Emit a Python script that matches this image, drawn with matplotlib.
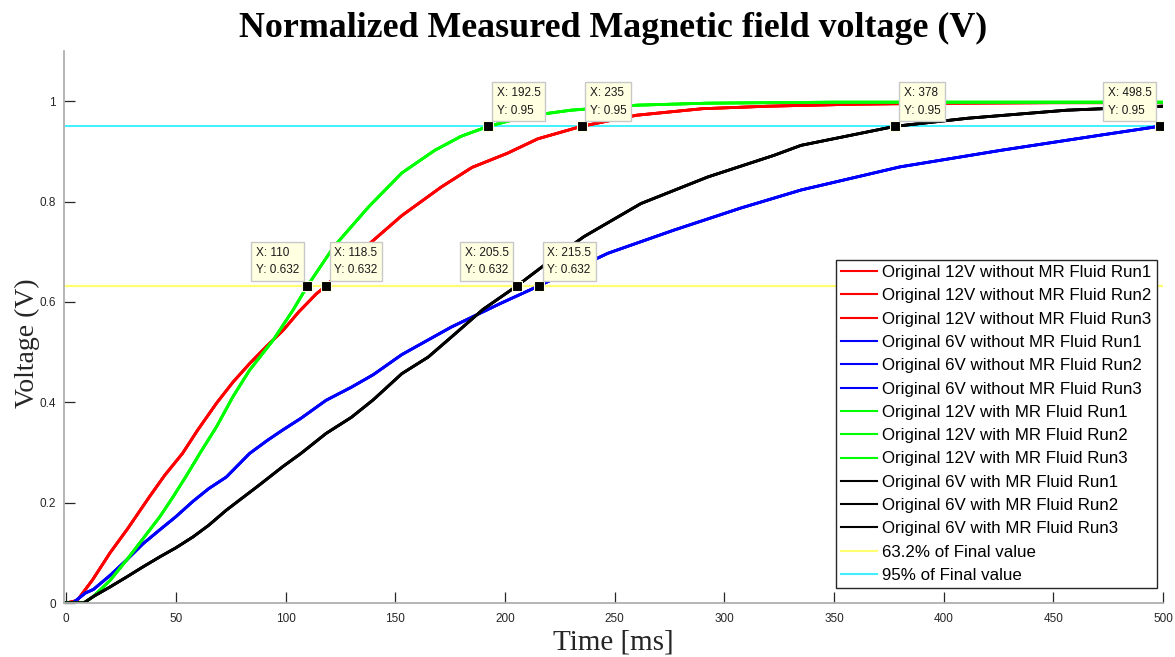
import matplotlib
matplotlib.use("Agg")
import matplotlib.pyplot as plt

# ---------------- data ----------------
t_red = [0, 5, 12, 20, 28, 38, 45, 53, 60, 68.5, 76, 83.6, 91, 98.8, 106, 114, 118.5,
         128, 138, 153, 171, 185, 201, 215, 235, 260, 290, 320, 360, 400, 450, 500]
v_red = [0, 0.005, 0.046, 0.10, 0.148, 0.212, 0.255, 0.298, 0.345, 0.398, 0.44, 0.477,
         0.51, 0.543, 0.58, 0.616, 0.632, 0.675, 0.715, 0.772, 0.829, 0.868, 0.896, 0.925,
         0.95, 0.972, 0.985, 0.99, 0.994, 0.996, 0.997, 0.997]

t_green = [0, 8, 12.4, 20, 27.6, 35, 42.7, 48.8, 55, 60.9, 68.5, 76, 83.6, 94.2, 103.3, 110,
           122, 138, 153, 168, 180, 192.5, 210, 230, 260, 292, 350, 400, 450, 500]
v_green = [0, 0.0, 0.013, 0.045, 0.086, 0.128, 0.172, 0.212, 0.255, 0.298, 0.351, 0.411,
           0.464, 0.523, 0.583, 0.632, 0.71, 0.79, 0.857, 0.902, 0.93, 0.95, 0.97, 0.982,
           0.992, 0.996, 0.998, 0.998, 0.998, 0.998]

t_blue = [0, 3, 8.8, 12.4, 20, 27.6, 35, 42.7, 50, 57.9, 65, 73, 83.6, 92, 98.8, 107, 118.5,
          130, 140, 153, 175.6, 198, 215.5, 247, 277, 307.5, 335, 380, 426, 471, 498.5, 500]
v_blue = [0, 0.0, 0.02, 0.027, 0.055, 0.086, 0.118, 0.146, 0.172, 0.203, 0.228, 0.251,
          0.298, 0.325, 0.345, 0.368, 0.404, 0.43, 0.455, 0.495, 0.55, 0.597, 0.632, 0.697,
          0.743, 0.787, 0.823, 0.869, 0.902, 0.932, 0.95, 0.95]

t_black = [0, 8, 12.4, 20, 27.6, 35, 42.7, 50, 57.9, 65, 73, 79, 88, 98.8, 107, 118.5, 130,
           140, 153, 165, 175.6, 190, 205.5, 220, 236, 262, 292.5, 322.6, 335, 378, 411,
           456, 500]
v_black = [0, 0.0, 0.013, 0.032, 0.052, 0.072, 0.092, 0.11, 0.132, 0.155, 0.185, 0.205,
           0.235, 0.272, 0.298, 0.338, 0.37, 0.405, 0.457, 0.49, 0.53, 0.585, 0.632, 0.68,
           0.73, 0.796, 0.849, 0.892, 0.912, 0.95, 0.966, 0.982, 0.99]

runs = ["Run1", "Run2", "Run3"]
series_names = ["Original 12V without MR Fluid", "Original 6V without MR Fluid",
                "Original 12V with MR Fluid", "Original 6V with MR Fluid"]
level_632 = 0.632
level_95 = 0.95

tip_x = [110, 118.5, 205.5, 215.5, 192.5, 235, 378, 498.5]
tip_y = [0.632, 0.632, 0.632, 0.632, 0.95, 0.95, 0.95, 0.95]
tip_side = ["left", "right", "left", "right", "right", "right", "right", "left"]

# ---------------- figure ----------------
fig = plt.figure(figsize=(11.75, 6.57), dpi=100)
ax = fig.add_axes([64 / 1175, 1 - 603 / 657, (1163 - 64) / 1175, (603 - 51) / 657])

series = [(t_red, v_red, "#FF0000"), (t_blue, v_blue, "#0000FF"),
          (t_green, v_green, "#00FF00"), (t_black, v_black, "#000000")]
for (tt, vv, col), name in zip(series, series_names):
    for r in runs:
        ax.plot(tt, vv, color=col, lw=2.0, label=f"{name} {r}", zorder=2)

ax.axhline(level_632, color="#FFFF70", lw=1.6, label="63.2% of Final value", zorder=1)
ax.axhline(level_95, color="#40F0FF", lw=1.4, label="95% of Final value", zorder=1)

# data tips
ax.plot(tip_x, tip_y, ls="none", marker="s", ms=6.5, mfc="black", mec="#FFFFE1",
        mew=0.8, zorder=5)
for x, y, side in zip(tip_x, tip_y, tip_side):
    txt = f"X: {x:g}\nY: {y:g}"
    dx = 6 if side == "right" else -6
    ax.annotate(txt, xy=(x, y), xytext=(dx, 7), textcoords="offset points",
                ha="left" if side == "right" else "right", va="bottom",
                multialignment="left",
                fontsize=8.5, family="Liberation Sans", color="#1a1a1a", linespacing=1.6,
                bbox=dict(boxstyle="square,pad=0.4", fc="#FFFFE1", ec="#C8C8C8", lw=1),
                zorder=6)

ax.set_xlim(-1, 500)
ax.set_ylim(0, 1.1)
ax.set_xticks(range(0, 501, 50))
ax.set_yticks([0, 0.2, 0.4, 0.6, 0.8, 1.0])
ax.set_yticklabels(["0", "0.2", "0.4", "0.6", "0.8", "1"])
ax.tick_params(direction="in", length=8, width=0.9, color="#262626",
               labelsize=8.5, labelcolor="#262626")
ax.tick_params(axis="x", pad=7)
ax.tick_params(axis="y", pad=6)
for lab in ax.get_xticklabels() + ax.get_yticklabels():
    lab.set_family("Liberation Sans")
ax.spines["top"].set_visible(False)
ax.spines["right"].set_visible(False)
for s in ("left", "bottom"):
    ax.spines[s].set_color("#B0B0B0")
    ax.spines[s].set_linewidth(1.3)

ax.set_title("Normalized Measured Magnetic field voltage (V)", family="Liberation Serif",
             fontweight="bold", fontsize=25.8, pad=10)
ax.set_xlabel("Time [ms]", family="Liberation Serif", fontsize=21, color="#262626")
ax.set_ylabel("Voltage (V)", family="Liberation Serif", fontsize=20, color="#262626")
ax.xaxis.set_label_coords(0.5, -0.048)
ax.yaxis.set_label_coords(-0.022, 0.47)

leg = ax.legend(loc="lower right", bbox_to_anchor=(0.9945, 0.027), borderaxespad=0,
                prop={"family": "Liberation Sans", "size": 12.2}, frameon=True,
                fancybox=False, framealpha=1, edgecolor="#262626", handlelength=2.15,
                handletextpad=0.3, labelspacing=0.49, borderpad=0.3)
leg.get_frame().set_linewidth(1.0)
for line in leg.get_lines():
    line.set_linewidth(1.5)

fig.savefig("out.png", dpi=100)
